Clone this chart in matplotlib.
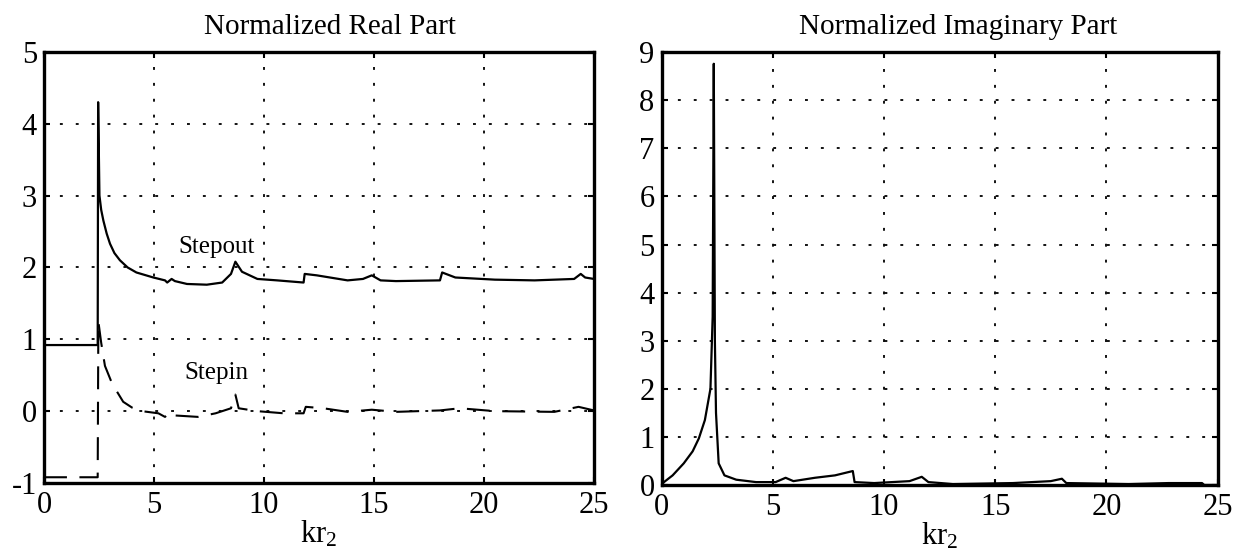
import numpy as np
import matplotlib
matplotlib.use("Agg")
import matplotlib.pyplot as plt

plt.rcParams["font.family"] = ["Liberation Serif", "DejaVu Serif"]
plt.rcParams["mathtext.fontset"] = "custom"
plt.rcParams["mathtext.rm"] = "Liberation Serif"
plt.rcParams["mathtext.it"] = "Liberation Serif"
plt.rcParams["axes.unicode_minus"] = False

# Normalized real part, step-out (solid)
out_x = [0.0, 2.44, 2.46, 2.52, 2.6, 2.7, 2.85, 3.0, 3.2, 3.45, 3.8, 4.2, 4.97, 5.5, 5.6,
         5.8, 5.95, 6.5, 7.4, 8.1, 8.5, 8.7, 9.0, 9.7, 10.6, 11.8, 11.85, 12.4, 13.8, 14.5,
         14.9, 15.3, 16.0, 18.0, 18.1, 18.7, 20.5, 22.3, 24.1, 24.4, 24.6, 25.0]
out_y = [0.92, 0.92, 4.3, 3.0, 2.8, 2.65, 2.47, 2.33, 2.2, 2.1, 2.0, 1.93, 1.86, 1.82, 1.79,
         1.84, 1.81, 1.77, 1.76, 1.79, 1.91, 2.08, 1.94, 1.84, 1.82, 1.79, 1.91, 1.89, 1.82,
         1.84, 1.89, 1.82, 1.81, 1.82, 1.93, 1.86, 1.83, 1.82, 1.84, 1.91, 1.86, 1.84]

# Normalized real part, step-in (dashed)
in_x = [0.0, 2.44, 2.47, 2.6, 2.77, 3.1, 3.6, 4.0, 4.45, 5.2, 5.5, 5.75, 5.95, 7.0, 7.8,
        8.5, 8.7, 8.85, 9.7, 10.9, 11.8, 11.9, 12.7, 13.8, 14.9, 16.0, 18.0, 18.9, 20.5,
        23.2, 24.3, 25.0]
in_y = [-0.92, -0.92, 1.25, 0.95, 0.63, 0.38, 0.13, 0.05, 0.0, -0.03, -0.08, -0.01, -0.06,
        -0.08, -0.03, 0.04, 0.23, 0.04, 0.0, -0.03, -0.03, 0.06, 0.04, -0.01, 0.02, -0.01,
        0.01, 0.04, 0.0, -0.01, 0.06, 0.01]

# Normalized imaginary part
im_x = [0.0, 0.5, 1.0, 1.4, 1.68, 1.95, 2.2, 2.3, 2.35, 2.4, 2.45, 2.57, 2.83, 3.36, 4.25,
        5.13, 5.58, 5.93, 6.9, 7.8, 8.6, 8.68, 9.56, 11.15, 11.7, 12.0, 13.1, 15.8, 17.5,
        18.0, 18.2, 21.0, 22.8, 24.3, 24.4, 25.0]
im_y = [0.02, 0.2, 0.45, 0.7, 0.97, 1.35, 2.0, 3.5, 8.76, 3.0, 1.5, 0.45, 0.2, 0.11, 0.06,
        0.06, 0.15, 0.08, 0.15, 0.2, 0.29, 0.06, 0.04, 0.08, 0.17, 0.06, 0.02, 0.04, 0.08,
        0.13, 0.04, 0.02, 0.04, 0.04, 0.0, 0.0]

fig = plt.figure(figsize=(12.33, 5.52), dpi=100)
ax1 = fig.add_axes([0.0357, 0.125, 0.446, 0.781])
ax2 = fig.add_axes([0.5365, 0.1214, 0.451, 0.784])


def style(ax, yticks):
    ax.set_xlim(0, 25)
    ax.set_xticks([0, 5, 10, 15, 20, 25])
    ax.set_ylim(yticks[0], yticks[-1])
    ax.set_yticks(yticks)
    ax.grid(True, color="black", linestyle=(0, (1.6, 7.2)), linewidth=1.3)
    ax.tick_params(direction="in", length=4, width=1.5, top=True, right=True,
                   labelsize=22)
    ax.tick_params(axis="x", pad=6)
    ax.tick_params(axis="y", pad=5)
    for s in ax.spines.values():
        s.set_linewidth(2.4)
    ax.set_xlabel("kr$_2$", fontsize=22, labelpad=-1)


ax1.plot(out_x, out_y, color="black", lw=1.6)
ax1.plot(in_x, in_y, color="black", lw=1.5, dashes=(11, 6))
style(ax1, [-1, 0, 1, 2, 3, 4, 5])
ax1.set_title("Normalized Real Part", fontsize=21, pad=13, x=0.52)
ax1.text(6.1, 2.2, "Stepout", fontsize=18)
ax1.text(6.4, 0.45, "Stepin", fontsize=18)

ax2.plot(im_x, im_y, color="black", lw=1.6)
style(ax2, list(range(0, 10)))
ax2.set_title("Normalized Imaginary Part", fontsize=21, pad=13, x=0.534)

fig.savefig("out.png", dpi=100)
